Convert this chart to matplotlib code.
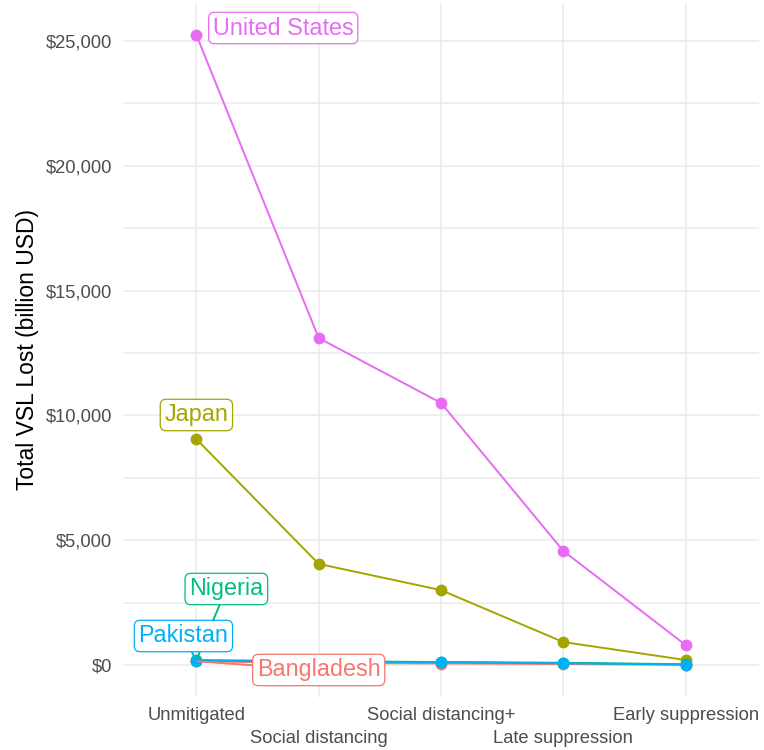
import numpy as np
import matplotlib
matplotlib.use("Agg")
import matplotlib.pyplot as plt
from matplotlib.ticker import FuncFormatter, MultipleLocator

plt.rcParams['font.family'] = ['Liberation Sans', 'DejaVu Sans']

# data
scenarios = ["Unmitigated", "Social distancing", "Social distancing+",
             "Late suppression", "Early suppression"]
countries = ["Bangladesh", "Japan", "Nigeria", "Pakistan", "United States"]
bangladesh = [150, 80, 60, 40, 10]
japan = [9050, 4050, 3000, 920, 200]
nigeria = [200, 150, 120, 90, 30]
pakistan = [170, 140, 110, 70, 20]
united_states = [25240, 13100, 10500, 4570, 800]
colors = ["#F8766D", "#A3A500", "#00BF7D", "#00B0F6", "#E76BF3"]

# where ggrepel put each label (x in category units, y in data units)
label_x = [1.0, 0.0, 0.245, -0.106, 0.71]
label_y = [-200, 10016, 3045, 1162, 25520]
show_segment = [True, False, True, True, False]

series = [bangladesh, japan, nigeria, pakistan, united_states]
xs = np.arange(len(scenarios))

fig = plt.figure(figsize=(7.64, 7.5), dpi=100)
ax = fig.add_axes([123 / 764, 1 - 697 / 750, 636 / 764, 694 / 750])

for vals, col in zip(series, colors):
    ax.plot(xs, vals, color=col, lw=1.4, marker='o', markersize=8.5,
            markeredgewidth=0, zorder=3)

for name, vals, col, lx, ly, seg in zip(countries, series, colors,
                                        label_x, label_y, show_segment):
    arrow = None
    if seg:
        arrow = dict(arrowstyle='-', color=col, lw=1.4, shrinkA=0, shrinkB=0)
    ax.annotate(name, xy=(0, vals[0]), xytext=(lx, ly), textcoords='data',
                ha='center', va='center', fontsize=16.8, color=col,
                bbox=dict(boxstyle='round,pad=0.18,rounding_size=0.25',
                          fc='white', ec=col, lw=0.9),
                arrowprops=arrow, zorder=4)

ax.set_xlim(-0.6, 4.6)
ax.set_ylim(-1282, 26522)
ax.set_xticks(xs)
ax.set_xticklabels(scenarios)
ax.yaxis.set_major_locator(MultipleLocator(5000))
ax.yaxis.set_minor_locator(MultipleLocator(2500))
ax.yaxis.set_major_formatter(FuncFormatter(lambda v, p: "${:,.0f}".format(v)))

ax.grid(True, which='major', color='#EBEBEB', lw=1.1)
ax.grid(True, which='minor', axis='y', color='#EBEBEB', lw=1.1)
ax.set_axisbelow(True)
for sp in ax.spines.values():
    sp.set_visible(False)
ax.tick_params(which='both', length=0, labelsize=13.2, labelcolor='#4D4D4D')
ax.tick_params(axis='y', pad=8)
# dodge the x labels onto two rows
for i, tk in enumerate(ax.xaxis.get_major_ticks()):
    tk.set_pad(7 if i % 2 == 0 else 23.5)

ax.set_ylabel("Total VSL Lost (billion USD)", fontsize=16.5, color='black',
              labelpad=5)

fig.savefig("out.png", dpi=100, facecolor='white')
